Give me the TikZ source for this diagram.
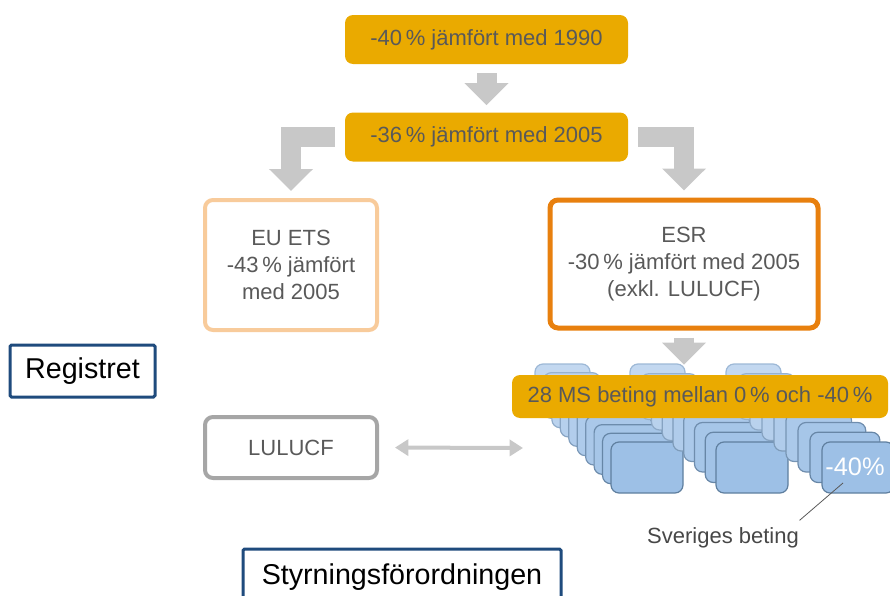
\documentclass[tikz,border=0pt]{standalone}
\usepackage{fontspec}
\setmainfont{Liberation Sans}
\usepackage{xcolor}
\usepackage{tikz}
\usetikzlibrary{arrows.meta,positioning,calc}
\definecolor{Gold}{HTML}{EAAA00}
\definecolor{Ink}{HTML}{595959}
\definecolor{ArrowGrey}{HTML}{C8C8C8}
\definecolor{Peach}{HTML}{F8CB9B}
\definecolor{Orange}{HTML}{E8800E}
\definecolor{Frame}{HTML}{A6A6A6}
\definecolor{Navy}{HTML}{1F4B7D}
\definecolor{CardFront}{HTML}{9DC0E6}
\definecolor{CardBack}{HTML}{C3D8F0}
\definecolor{EdgeFront}{HTML}{5F7F9F}
\definecolor{EdgeBack}{HTML}{9DB8D6}

\begin{document}
\begin{tikzpicture}[x=0.75pt,y=-0.75pt,
goal/.style={fill=Gold,rounded corners=6pt,minimum width=212.25pt,minimum height=36.75pt,text=Ink,font=\fontsize{16.5}{20}\selectfont},
sector/.style={draw,line width=3pt,rounded corners=6pt,fill=white,text=Ink,align=center,font=\fontsize{16.5}{20.25}\selectfont},
law/.style={draw=Navy,line width=2.25pt,rounded corners=1.2pt,fill=white,text=black,font=\fontsize{21.5}{26}\selectfont},
card/.style={line width=0.9pt,rounded corners=6pt},
blockarr/.style={draw=ArrowGrey,line width=15pt,-{Triangle[length=16.5pt,width=32pt]}},
twoway/.style={draw=ArrowGrey,line width=3pt,{Triangle[length=10pt,width=12pt]}-{Triangle[length=10pt,width=12pt]}},
lead/.style={draw=Ink,line width=0.6pt}]
\useasboundingbox (0,0) rectangle (890,596);
\clip (0,0) rectangle (890,596);
\foreach \bx/\fx/\n in {535/611/10,630/716/9,726/822/9}{
  \foreach \i in {1,...,\n}{
    \pgfmathsetmacro\t{(\i-1)/(\n-1)}
    \pgfmathsetmacro\cx{\bx+(\fx-\bx)*\t}
    \pgfmathsetmacro\cy{364+78*\t}
    \pgfmathsetmacro\cw{55+17*\t}
    \pgfmathsetmacro\ch{45+6*\t}
    \pgfmathtruncatemacro\mix{100*\t}
    \draw[card,fill=CardFront!\mix!CardBack,draw=EdgeFront!\mix!EdgeBack] (\cx,\cy) rectangle ++(\cw,\ch);
  }
}
\node[goal] (b1) at (486.5,39.5) {-40\,\% jämfört med 1990};
\node[goal] (b2) at (486.5,137) {-36\,\% jämfört med 2005};
\node[sector,draw=Peach,minimum width=129pt,minimum height=97.5pt] (ets) at (291,265) {EU ETS\\-43\,\% jämfört\\med 2005};
\node[sector,draw=Orange,line width=3.75pt,minimum width=201pt,minimum height=96pt] (esr) at (684,264) {ESR\\-30\,\% jämfört med 2005\\(exkl. LULUCF)};
\node[goal,minimum width=282pt,minimum height=32.25pt] (ms) at (700,396.5) {28 MS beting mellan 0\,\% och -40\,\%};
\node[sector,draw=Frame,minimum width=129pt,minimum height=45.75pt] (lulucf) at (291,447.5) {LULUCF};
\node[text=white,font=\fontsize{19}{22}\selectfont] (se) at (855,467) {-40\%};
\node[text=Ink!80!black,font=\fontsize{16.5}{19}\selectfont] (sv) at (723,538) {Sveriges beting};
\node[law,minimum width=108.75pt,minimum height=39pt] (reg) at (82.5,371) {Registret};
\node[law,minimum width=238.5pt,minimum height=42pt] (styr) at (402,577) {Styrningsförordningen};
\coordinate (stk) at (523,448);
\coordinate (pin) at (843,483);
\draw[blockarr,shorten <=6.75pt,shorten >=5.25pt] (b1.south)--(b2.north);
\draw[blockarr,shorten <=7.5pt,shorten >=5.25pt] (b2.west)-|(ets.north);
\draw[blockarr,shorten <=7.5pt,shorten >=5.25pt] (b2.east)-|(esr.north);
\draw[blockarr,shorten <=5.25pt,shorten >=7.5pt] (esr.south)--(esr.south|-ms.north);
\draw[twoway,shorten <=12pt] (lulucf.east)--(stk);
\draw[lead] ([xshift=-3pt,yshift=2pt]sv.north east)--(pin);
\end{tikzpicture}
\end{document}
